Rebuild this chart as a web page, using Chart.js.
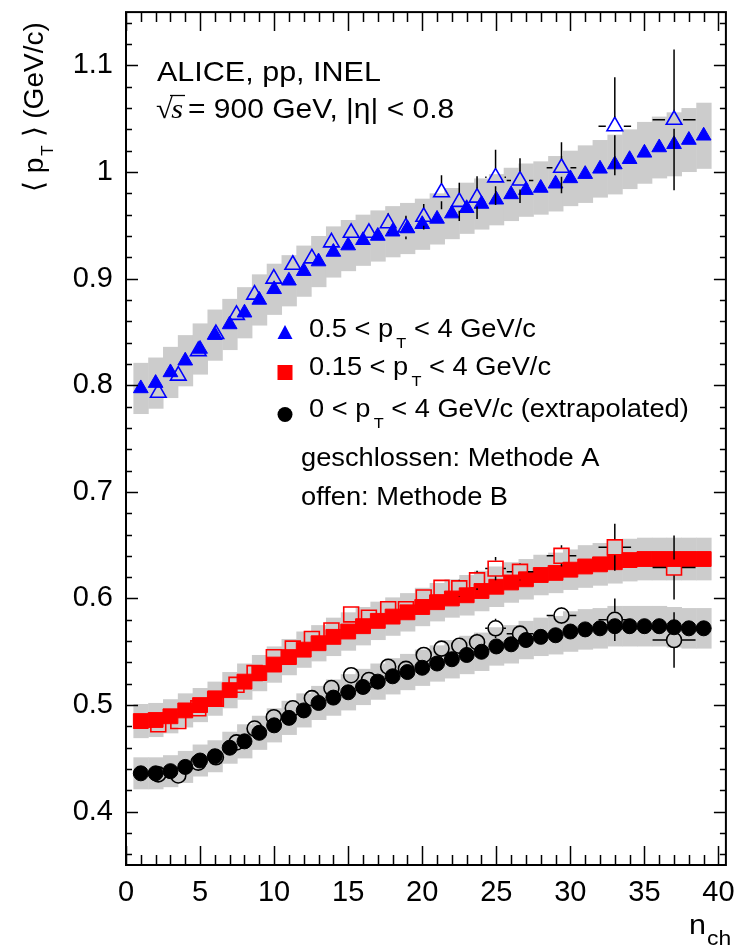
<!DOCTYPE html>
<html>
<head>
<meta charset="utf-8">
<script src="https://cdn.jsdelivr.net/npm/chart.js@4.4.0/dist/chart.umd.min.js"></script>
<style>
html, body { margin: 0; padding: 0; background: #fff; }
#wrap { width: 738px; height: 950px; }
</style>
</head>
<body>
<div id="wrap"><canvas id="chart" width="738" height="950"></canvas></div>
<script>
// Methode A (geschlossen): n_ch = 1..39
const nchA = [1, 2, 3, 4, 5, 6, 7, 8, 9, 10, 11, 12, 13, 14, 15, 16, 17, 18, 19, 20,
              21, 22, 23, 24, 25, 26, 27, 28, 29, 30, 31, 32, 33, 34, 35, 36, 37, 38, 39];
const ptBlueA = [0.797, 0.802, 0.812, 0.823, 0.834, 0.847, 0.857, 0.868, 0.880, 0.890,
                 0.898, 0.907, 0.916, 0.925, 0.931, 0.936, 0.940, 0.944, 0.947, 0.951,
                 0.956, 0.961, 0.966, 0.970, 0.974, 0.979, 0.983, 0.985, 0.989, 0.994,
                 0.998, 1.003, 1.007, 1.012, 1.018, 1.023, 1.026, 1.030, 1.034];
const ptRedA = [0.485, 0.486, 0.4895, 0.495, 0.500, 0.506, 0.514, 0.522, 0.530, 0.538,
                0.545, 0.552, 0.558, 0.564, 0.569, 0.574, 0.579, 0.583, 0.587, 0.592,
                0.5965, 0.600, 0.603, 0.607, 0.611, 0.615, 0.618, 0.622, 0.624, 0.627,
                0.630, 0.632, 0.634, 0.636, 0.637, 0.637, 0.637, 0.637, 0.637];
const ptBlackA = [0.436, 0.436, 0.438, 0.442, 0.448, 0.452, 0.460, 0.466, 0.474, 0.481,
                  0.488, 0.495, 0.502, 0.507, 0.512, 0.517, 0.522, 0.527, 0.531, 0.535,
                  0.539, 0.543, 0.547, 0.550, 0.555, 0.557, 0.561, 0.564, 0.5655, 0.569,
                  0.571, 0.572, 0.574, 0.574, 0.574, 0.574, 0.573, 0.572, 0.572];
// systematische Fehler (graue Boxen)
const sysBlueA = [0.024, 0.024, 0.024, 0.024, 0.024, 0.024, 0.024, 0.024, 0.024, 0.024,
                  0.024, 0.024, 0.024, 0.024, 0.024, 0.024, 0.024, 0.024, 0.024, 0.024,
                  0.024, 0.024, 0.024, 0.024, 0.024, 0.025, 0.025, 0.025, 0.026, 0.026,
                  0.027, 0.027, 0.028, 0.028, 0.029, 0.029, 0.030, 0.030, 0.031];
const sysRedA = [0.016, 0.016, 0.016, 0.016, 0.016, 0.016, 0.017, 0.017, 0.017, 0.017,
                 0.017, 0.017, 0.017, 0.018, 0.018, 0.018, 0.018, 0.018, 0.018, 0.018,
                 0.018, 0.018, 0.019, 0.019, 0.019, 0.019, 0.019, 0.019, 0.019, 0.019,
                 0.020, 0.020, 0.020, 0.020, 0.020, 0.020, 0.020, 0.020, 0.020];
const sysBlackA = [0.015, 0.015, 0.015, 0.015, 0.015, 0.015, 0.015, 0.016, 0.016, 0.016,
                   0.016, 0.016, 0.016, 0.017, 0.017, 0.017, 0.017, 0.017, 0.017, 0.017,
                   0.017, 0.018, 0.018, 0.018, 0.018, 0.018, 0.018, 0.018, 0.018, 0.019,
                   0.019, 0.019, 0.019, 0.019, 0.019, 0.019, 0.019, 0.019, 0.019];

// Methode B (offen)
const nchB = [2.18, 3.53, 4.88, 6.07, 7.46, 8.68, 9.98, 11.26, 12.55, 13.87, 15.2, 16.4,
              17.7, 18.9, 20.1, 21.3, 22.5, 23.7, 24.95, 26.6, 29.4, 33.0, 37.0];
const nchErrB = [0.5, 0.5, 0.5, 0.5, 0.5, 0.5, 0.5, 0.5, 0.5, 0.5, 0.5, 0.5,
                 0.5, 0.5, 0.5, 0.5, 0.5, 0.5, 0.7, 0.9, 1.0, 1.1, 1.45];
const ptBlueB = [0.793, 0.809, 0.832, 0.848, 0.866, 0.885, 0.900, 0.913, 0.919, 0.934, 0.943, 0.943,
                 0.952, 0.948, 0.958, 0.981, 0.972, 0.976, 0.995, 0.992, 1.004, 1.043, 1.049];
const errBlueB = [0.004, 0.004, 0.004, 0.005, 0.005, 0.005, 0.006, 0.006, 0.007, 0.007, 0.008, 0.008,
                  0.009, 0.011, 0.012, 0.016, 0.018, 0.020, 0.026, 0.021, 0.024, 0.046, 0.066];
const ptRedB = [0.482, 0.485, 0.497, 0.506, 0.519, 0.530, 0.545, 0.553, 0.562, 0.570, 0.585, 0.582,
                0.590, 0.590, 0.601, 0.610, 0.6095, 0.617, 0.628, 0.625, 0.640, 0.648, 0.629];
const errRedB = [0.002, 0.002, 0.002, 0.003, 0.003, 0.003, 0.003, 0.003, 0.004, 0.004, 0.004, 0.005,
                 0.005, 0.006, 0.006, 0.007, 0.008, 0.009, 0.011, 0.008, 0.010, 0.022, 0.030];
const ptBlackB = [0.435, 0.434, 0.446, 0.451, 0.465, 0.478, 0.4886, 0.497, 0.5065, 0.516, 0.528, 0.5235,
                  0.536, 0.534, 0.547, 0.553, 0.5556, 0.559, 0.572, 0.567, 0.584, 0.580, 0.561];
const errBlackB = [0.002, 0.002, 0.002, 0.003, 0.003, 0.003, 0.003, 0.003, 0.004, 0.004, 0.004, 0.004,
                   0.005, 0.005, 0.006, 0.006, 0.007, 0.008, 0.009, 0.007, 0.008, 0.020, 0.026];

const xTicks = [0, 5, 10, 15, 20, 25, 30, 35, 40];
const xTickLabels = ['0', '5', '10', '15', '20', '25', '30', '35', '40'];
const yTicks = [0.4, 0.5, 0.6, 0.7, 0.8, 0.9, 1.0, 1.1];
const yTickLabels = ['0.4', '0.5', '0.6', '0.7', '0.8', '0.9', '1', '1.1'];

const BLUE = '#0000ff', RED = '#ff0000', BLACK = '#000000', GRAY = '#cccccc';
const FONT = '"Liberation Sans", Arial, Helvetica, sans-serif';
const SX = 1.09; // ROOT-Helvetica ist etwas breiter

function pts(xs, ys) {
    return xs.map((x, i) => ({ x: x, y: ys[i] }));
}

function openSet(xs, ys, color, style, r) {
    return {
        data: pts(xs, ys), pointStyle: style, pointRadius: r, pointHoverRadius: r,
        pointBackgroundColor: 'rgba(0,0,0,0)', pointBorderColor: color, pointBorderWidth: 1.6,
        showLine: false
    };
}
function filledSet(xs, ys, color, style, r) {
    return {
        data: pts(xs, ys), pointStyle: style, pointRadius: r, pointHoverRadius: r,
        pointBackgroundColor: color, pointBorderColor: color, pointBorderWidth: 1,
        showLine: false
    };
}

// Text mit Index (p_T, n_ch), horizontal leicht gestreckt
function richText(ctx, parts, x, y, size, sub) {
    sub = sub || { size: Math.round(size * 0.56), dy: size * 0.42, gap: 3 };
    ctx.save();
    ctx.translate(x, y);
    ctx.scale(SX, 1);
    let cx = 0;
    parts.forEach(p => {
        if (p.sub) {
            cx += sub.gap;
            ctx.font = sub.size + 'px ' + FONT;
            ctx.fillText(p.t, cx, sub.dy);
        } else {
            ctx.font = size + 'px ' + FONT;
            ctx.fillText(p.t, cx, 0);
        }
        cx += ctx.measureText(p.t).width;
    });
    ctx.restore();
}

const framePlugin = {
    id: 'frame',
    beforeDatasetsDraw(chart) {
        const ctx = chart.ctx, xs = chart.scales.x, ys = chart.scales.y;
        ctx.save();
        ctx.fillStyle = GRAY;
        [[ptBlueA, sysBlueA], [ptRedA, sysRedA], [ptBlackA, sysBlackA]].forEach(([v, s]) => {
            nchA.forEach((n, i) => {
                const x0 = xs.getPixelForValue(n - 0.5), x1 = xs.getPixelForValue(n + 0.5);
                const y0 = ys.getPixelForValue(v[i] + s[i]), y1 = ys.getPixelForValue(v[i] - s[i]);
                ctx.fillRect(x0, y0, x1 - x0 + 0.5, y1 - y0);
            });
        });
        ctx.restore();
    },
    afterDatasetsDraw(chart) {
        const ctx = chart.ctx, xs = chart.scales.x, ys = chart.scales.y;
        ctx.save();
        ctx.strokeStyle = BLACK;
        ctx.lineWidth = 1.5;
        [[ptBlueB, errBlueB, 9], [ptRedB, errRedB, 8], [ptBlackB, errBlackB, 8]].forEach(([v, e, r]) => {
            nchB.forEach((n, i) => {
                const px = xs.getPixelForValue(n), py = ys.getPixelForValue(v[i]);
                const top = ys.getPixelForValue(v[i] + e[i]), bot = ys.getPixelForValue(v[i] - e[i]);
                const lft = xs.getPixelForValue(n - nchErrB[i]), rgt = xs.getPixelForValue(n + nchErrB[i]);
                ctx.beginPath();
                if (top < py - r) { ctx.moveTo(px, py - r); ctx.lineTo(px, top); }
                if (bot > py + r) { ctx.moveTo(px, py + r); ctx.lineTo(px, bot); }
                if (lft < px - r) { ctx.moveTo(px - r, py); ctx.lineTo(lft, py); }
                if (rgt > px + r) { ctx.moveTo(px + r, py); ctx.lineTo(rgt, py); }
                ctx.stroke();
            });
        });
        ctx.restore();
    },
    afterDraw(chart) {
        const ctx = chart.ctx, xs = chart.scales.x, ys = chart.scales.y;
        const a = chart.chartArea;
        ctx.save();
        ctx.strokeStyle = BLACK;
        ctx.fillStyle = BLACK;

        // Rahmen
        ctx.lineWidth = 2;
        ctx.strokeRect(a.left, a.top, a.right - a.left, a.bottom - a.top);

        // Ticks x (unten und oben)
        ctx.lineWidth = 1.5;
        ctx.beginPath();
        for (let v = 0; v <= 40; v += 1) {
            const px = Math.round(xs.getPixelForValue(v)) + 0.5;
            const len = v % 5 === 0 ? 19 : 10;
            ctx.moveTo(px, a.bottom); ctx.lineTo(px, a.bottom - len);
            ctx.moveTo(px, a.top); ctx.lineTo(px, a.top + len);
        }
        // Ticks y (links und rechts)
        for (let k = 18; k <= 57; k++) {
            const v = k * 0.02;
            const py = Math.round(ys.getPixelForValue(v)) + 0.5;
            const len = k % 5 === 0 ? 12 : 6;
            ctx.moveTo(a.left, py); ctx.lineTo(a.left + len, py);
            ctx.moveTo(a.right, py); ctx.lineTo(a.right - len, py);
        }
        ctx.stroke();

        // Tick-Beschriftung
        ctx.font = '29px ' + FONT;
        ctx.textAlign = 'center';
        ctx.textBaseline = 'alphabetic';
        xTicks.forEach((v, i) => ctx.fillText(xTickLabels[i], xs.getPixelForValue(v), 901));
        ctx.textAlign = 'right';
        ctx.textBaseline = 'middle';
        yTicks.forEach((v, i) => ctx.fillText(yTickLabels[i], 113, ys.getPixelForValue(v)));

        // Achsentitel
        ctx.textAlign = 'left';
        ctx.textBaseline = 'alphabetic';
        richText(ctx, [{ t: 'n' }, { t: 'ch', sub: true }], 689, 934, 28, { size: 21, dy: 11, gap: 1 });
        ctx.save();
        ctx.translate(43, 192);
        ctx.rotate(-Math.PI / 2);
        ctx.scale(1 / SX, 1);
        richText(ctx, [{ t: '\u27e8 p' }, { t: 'T', sub: true }, { t: ' \u27e9 (GeV/c)' }], 0, 0, 28,
                 { size: 17, dy: 10, gap: 2 });
        ctx.restore();

        // Beschriftung oben links
        richText(ctx, [{ t: 'ALICE, pp, INEL' }], 157, 81, 28);
        ctx.save();
        ctx.translate(156, 118);
        ctx.scale(SX, 1);
        ctx.font = '28px "Liberation Serif", "DejaVu Serif", serif';
        ctx.fillText('\u221a', 0, 0);
        ctx.font = 'italic 28px "Liberation Serif", "DejaVu Serif", serif';
        ctx.fillText('s', 14, 0);
        ctx.restore();
        ctx.lineWidth = 1.3;
        ctx.beginPath(); ctx.moveTo(170, 95.5); ctx.lineTo(185, 95.5); ctx.stroke();
        richText(ctx, [{ t: '= 900 GeV, |\u03b7| < 0.8' }], 188, 118, 27.5);

        // Legende
        const lx = 285;
        ctx.fillStyle = BLUE;
        ctx.beginPath();
        ctx.moveTo(lx, 325); ctx.lineTo(lx + 7.5, 339); ctx.lineTo(lx - 7.5, 339); ctx.closePath();
        ctx.fill();
        ctx.fillStyle = RED;
        ctx.fillRect(lx - 7.5, 365, 15, 15);
        ctx.fillStyle = BLACK;
        ctx.beginPath(); ctx.arc(lx, 414.5, 7.5, 0, Math.PI * 2); ctx.fill();

        const lsub = { size: 15, dy: 11, gap: 3 };
        richText(ctx, [{ t: '0.5 < p' }, { t: 'T', sub: true }, { t: ' < 4 GeV/c' }], 309, 337, 25, lsub);
        richText(ctx, [{ t: '0.15 < p' }, { t: 'T', sub: true }, { t: ' < 4 GeV/c' }], 309, 375, 25, lsub);
        richText(ctx, [{ t: '0 < p' }, { t: 'T', sub: true }, { t: ' < 4 GeV/c (extrapolated)' }], 309, 417, 25, lsub);
        richText(ctx, [{ t: 'geschlossen: Methode A' }], 301, 466, 25);
        richText(ctx, [{ t: 'offen: Methode B' }], 301, 505, 25);
        ctx.restore();
    }
};

new Chart(document.getElementById('chart').getContext('2d'), {
    type: 'scatter',
    data: {
        datasets: [
            openSet(nchB, ptBlueB, BLUE, 'triangle', 9),
            openSet(nchB, ptRedB, RED, 'rect', 10.5),
            openSet(nchB, ptBlackB, BLACK, 'circle', 7.5),
            filledSet(nchA, ptBlueA, BLUE, 'triangle', 8.5),
            filledSet(nchA, ptRedA, RED, 'rect', 10.5),
            filledSet(nchA, ptBlackA, BLACK, 'circle', 7.5)
        ]
    },
    options: {
        responsive: false,
        animation: false,
        layout: { padding: { left: 126, right: 12, top: 5, bottom: 85 } },
        scales: {
            x: { type: 'linear', min: 0, max: 40.5, display: false },
            y: { type: 'linear', min: 0.35, max: 1.15, display: false }
        },
        plugins: { legend: { display: false }, tooltip: { enabled: false } }
    },
    plugins: [framePlugin]
});
</script>
</body>
</html>
